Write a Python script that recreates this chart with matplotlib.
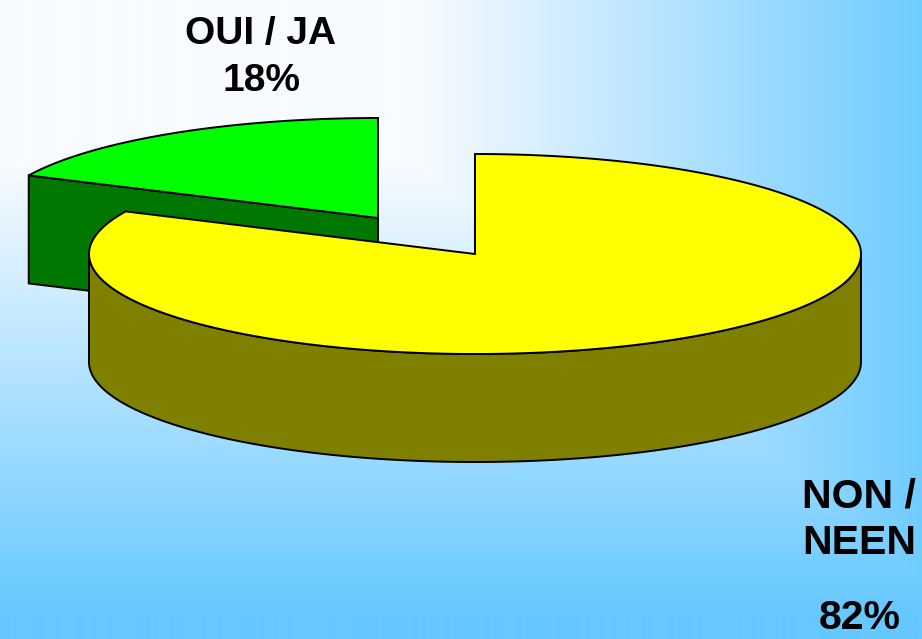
import numpy as np
import matplotlib
matplotlib.use("Agg")
import matplotlib.pyplot as plt
from matplotlib.patches import Polygon

# ---- data ----
categories = ["OUI / JA", "NON /\nNEEN"]
values = [18, 82]
top_colors = ["#00ff00", "#ffff00"]
side_colors = ["#007800", "#808000"]

W, H = 922, 639
fig = plt.figure(figsize=(W / 100, H / 100), dpi=100)
ax = fig.add_axes([0, 0, 1, 1])
ax.set_xlim(0, W)
ax.set_ylim(H, 0)
ax.axis("off")

# ---- background gradient (from top-left corner) ----
xs = np.linspace(0, 1, W)
ys = np.linspace(0, 1, H)
XX, YY = np.meshgrid(xs, ys)
t = np.clip(np.maximum(1.7 * XX - 0.77, 1.42 * YY - 0.365), 0, 1)
c0 = np.array([248, 251, 255]) / 255
c1 = np.array([102, 200, 255]) / 255
img = c0[None, None, :] * (1 - t[..., None]) + c1[None, None, :] * t[..., None]
ax.imshow(img, extent=(0, W, H, 0), aspect="auto", zorder=0)

# ---- 3D pie geometry ----
rx, ry, depth = 386, 100, 108
centers = [(378, 218), (475, 254)]  # green exploded, yellow
total = sum(values)
lw = 1.4

def pt(c, th, dz=0):
    return (c[0] + rx * np.cos(np.radians(th)), c[1] - ry * np.sin(np.radians(th)) + dz)

# green slice: counter-clockwise from 90
a_g0 = 90
a_g1 = 90 + 360 * values[0] / total
cg = centers[0]
p_top = pt(cg, a_g1)
face = [cg, p_top, (p_top[0], p_top[1] + depth), (cg[0], cg[1] + depth)]
ax.add_patch(Polygon(face, closed=True, fc=side_colors[0], ec="black", lw=lw, zorder=2))
th = np.linspace(a_g0, a_g1, 100)
arc = [pt(cg, a) for a in th]
ax.add_patch(Polygon([cg] + arc, closed=True, fc=top_colors[0], ec="black", lw=lw, zorder=3))

# yellow slice: clockwise from 90
a_y0 = 90
a_y1 = 90 - 360 * values[1] / total
cy = centers[1]
lo = max(-180, a_y1)
th = np.linspace(lo, 0, 200)
front_top = [pt(cy, a) for a in th]
front_bot = [pt(cy, a, depth) for a in th[::-1]]
ax.add_patch(Polygon(front_top + front_bot, closed=True, fc=side_colors[1], ec="black", lw=lw, zorder=4))
th = np.linspace(a_y0, a_y1, 300)
arc = [pt(cy, a) for a in th]
ax.add_patch(Polygon([cy] + arc, closed=True, fc=top_colors[1], ec="black", lw=lw, zorder=5))

# ---- labels ----
font = dict(family="Liberation Sans", weight="bold", color="black")
ax.text(261, 34, categories[0], ha="center", va="center", fontsize=28, zorder=6, **font)
ax.text(261, 81, f"{values[0]}%", ha="center", va="center", fontsize=28, zorder=6, **font)
ax.text(859, 520, categories[1], ha="center", va="center", fontsize=29.5,
        linespacing=1.3, zorder=6, **font)
ax.text(860, 618, f"{values[1]}%", ha="center", va="center", fontsize=29.5, zorder=6, **font)

fig.savefig("out.png", dpi=100)
